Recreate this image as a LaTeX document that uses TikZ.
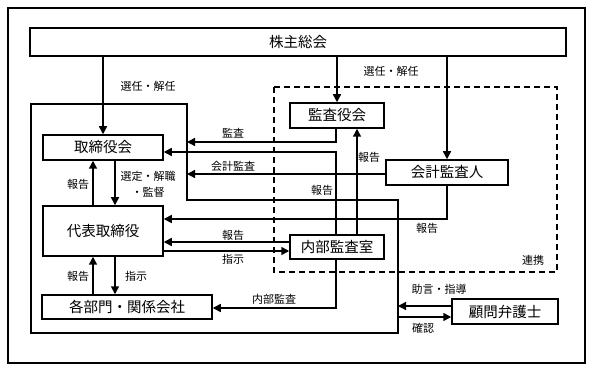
\documentclass[tikz,border=0pt]{standalone}
\usepackage{fontspec}
\newfontfamily\jp{Noto Sans CJK JP}
\usetikzlibrary{arrows.meta}
\begin{document}
\begin{tikzpicture}[x=1pt,y=-1pt,
  lw/.style={line width=1.5pt},
  box/.style={draw,lw,fill=white,inner sep=0pt,font=\jp\fontsize{14.5}{16}\selectfont},
  arr/.style={lw,-{Triangle[length=8pt,width=8pt]}},
  lab/.style={font=\jp\fontsize{11}{16}\selectfont,inner sep=0pt}]
\useasboundingbox (0,0) rectangle (594,371);
% outer frame
\draw[lw] (8,8) rectangle (585,363);
% inner company frame
\coordinate (b1) at (31,104);
\coordinate (b2) at (187,104);
\coordinate (b3) at (187,200);
\coordinate (b4) at (398,200);
\coordinate (b5) at (398,333);
\coordinate (b6) at (31,333);
\draw[lw] (b1) -- (b2) -- (b3) -- (b4) -- (b5) -- (b6) -- cycle;
% dashed cooperation frame
\draw[lw,dash pattern=on 6pt off 4pt] (274,87) rectangle (557,272);
% nodes
\node[box,minimum width=536pt,minimum height=28pt] (kabu) at (298,42) {株主総会};
\node[box,minimum width=120pt,minimum height=25pt] (tori) at (103,147.5) {取締役会};
\node[box,minimum width=120pt,minimum height=50pt] (dai) at (103,231) {代表取締役};
\node[box,minimum width=170pt,minimum height=24pt] (kaku) at (127,307) {各部門・関係会社};
\node[box,minimum width=94pt,minimum height=25pt] (kansa) at (337,115.5) {監査役会};
\node[box,minimum width=122pt,minimum height=25pt] (kaikei) at (447,172.5) {会計監査人};
\node[box,minimum width=94pt,minimum height=24pt] (naibu) at (337,247) {内部監査室};
\node[box,minimum width=106pt,minimum height=25pt] (komon) at (505,311.5) {顧問弁護士};
% shareholders
\draw[arr] (kabu.south -| tori.north) -- (tori.north);
\draw[arr] (kabu.south -| kansa.north) -- (kansa.north);
\draw[arr] (kabu.south -| kaikei.north) -- (kaikei.north);
\node[lab] at (148,86) {選任・解任};
\node[lab] at (391,71) {選任・解任};
% board <-> representative
\draw[arr] ([xshift=-10pt]dai.north) -- ([xshift=-10pt]tori.south);
\draw[arr] ([xshift=12pt]tori.south) -- ([xshift=12pt]dai.north);
\node[lab] at (78,184) {報告};
\node[lab,align=center] at (148,184) {選定・解職\\・監督};
% representative <-> departments
\draw[arr] ([xshift=-10pt]kaku.north -| dai.south) -- ([xshift=-10pt]dai.south);
\draw[arr] ([xshift=12pt]dai.south) -- ([xshift=12pt]dai.south |- kaku.north);
\node[lab] at (78,276) {報告};
\node[lab] at (136,276) {指示};
% audit board
\coordinate (a1) at (187,142);
\draw[arr] ([xshift=-1pt]kansa.south) |- (a1);
\node[lab] at (233,133) {監査};
% accounting auditor
\draw[arr] ([yshift=-1.5pt]kaikei.west) -- ([yshift=-1.5pt]kaikei.west -| b3);
\node[lab] at (233,166) {会計監査};
\draw[arr] (kaikei.south) |- ([yshift=12pt]dai.east);
\node[lab] at (427,228) {報告};
% internal audit
\draw[arr] ([xshift=-1pt]naibu.north) |- ([yshift=-4.5pt]tori.east);
\node[lab] at (322,190) {報告};
\draw[arr] ([xshift=20pt]naibu.north) -- ([xshift=20pt]kansa.south);
\node[lab] at (369,157) {報告};
\draw[arr] ([yshift=5pt]naibu.west) -- ([yshift=5pt]naibu.west -| dai.east);
\draw[arr] ([yshift=-4pt]naibu.west -| dai.east) -- ([yshift=-4pt]naibu.west);
\node[lab] at (233,235) {報告};
\node[lab] at (233,259) {指示};
\draw[arr] ([xshift=-1pt]naibu.south) |- ([yshift=-1pt]kaku.east);
\node[lab] at (274,299.5) {内部監査};
% cooperation
\node[lab] at (533,260) {連携};
% legal advisor
\draw[arr] ([yshift=5.5pt]komon.west) -- ([yshift=5.5pt]komon.west -| b4);
\draw[arr] ([yshift=-5.5pt]komon.west -| b4) -- ([yshift=-5.5pt]komon.west);
\node[lab] at (439,289) {助言・指導};
\node[lab] at (423,328) {確認};
\end{tikzpicture}
\end{document}
